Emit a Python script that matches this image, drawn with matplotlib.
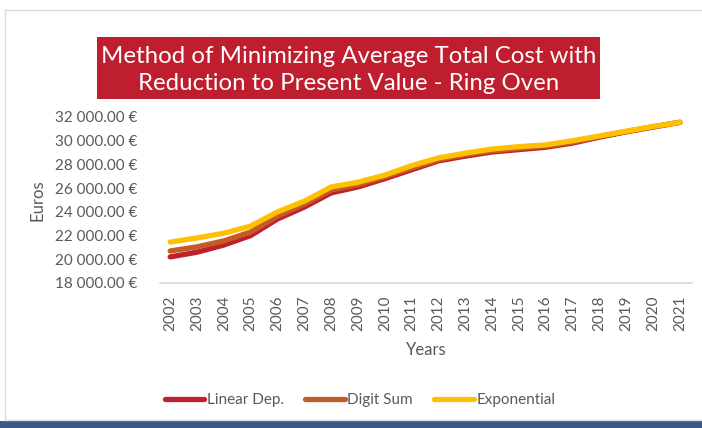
import matplotlib
matplotlib.use('Agg')
import matplotlib.pyplot as plt
from matplotlib.patches import Rectangle
from matplotlib.lines import Line2D
import numpy as np

plt.rcParams['font.family'] = ['Lato', 'DejaVu Sans']

# ------------------------------ DATA ------------------------------
years = [str(y) for y in range(2002, 2022)]
linear_dep = [20200, 20600, 21200, 22000, 23400, 24400, 25600, 26100, 26800, 27550,
              28300, 28700, 29050, 29250, 29450, 29800, 30300, 30750, 31150, 31550]
digit_sum = [20700, 21050, 21550, 22300, 23650, 24650, 25850, 26300, 26950, 27700,
             28420, 28830, 29150, 29350, 29550, 29880, 30350, 30780, 31180, 31550]
exponential = [21450, 21800, 22200, 22800, 24000, 24900, 26100, 26500, 27100, 27900,
               28550, 28950, 29300, 29500, 29650, 30000, 30400, 30800, 31200, 31550]
y_ticks = [18000, 20000, 22000, 24000, 26000, 28000, 30000, 32000]

W, H = 702, 428
fig = plt.figure(figsize=(W / 100, H / 100), dpi=100)

# ------------------------------ FRAME ------------------------------
gray = '#D9D9D9'
fig.add_artist(Line2D([5 / W, 5 / W], [1 - 10 / H, 1 - 420 / H], color=gray, lw=1))
fig.add_artist(Line2D([5 / W, 1], [1 - 10 / H, 1 - 10 / H], color=gray, lw=1))
fig.add_artist(Line2D([5 / W, 1], [1 - 420 / H, 1 - 420 / H], color=gray, lw=1))
fig.add_artist(Rectangle((0, 0), 1, 7 / H, transform=fig.transFigure,
                         facecolor='#3A5A8C', edgecolor='none'))

# ------------------------------ TITLE ------------------------------
fig.add_artist(Rectangle((97 / W, 1 - 99 / H), (600 - 97) / W, (99 - 37) / H,
                         transform=fig.transFigure, facecolor='#BE1E2D', edgecolor='none'))
fig.text(348.5 / W, 1 - 70 / H,
         'Method of Minimizing Average Total Cost with\nReduction to Present Value - Ring Oven',
         ha='center', va='center', color='white', fontsize=17.3, linespacing=1.4)

# ------------------------------ AXES ------------------------------
ax = fig.add_axes([160 / W, (H - 283) / H, (692 - 160) / W, (283 - 117) / H])
x = np.arange(len(years))
ax.plot(x, linear_dep, color='#C0202A', lw=3.8, solid_capstyle='round', label='Linear Dep.')
ax.plot(x, digit_sum, color='#C55A28', lw=3.8, solid_capstyle='round', label='Digit Sum')
ax.plot(x, exponential, color='#FFC000', lw=3.8, solid_capstyle='round', label='Exponential')

ax.set_ylim(18000, 32000)
ax.set_xlim(-0.38, 19.45)
ax.set_yticks(y_ticks)
ax.set_yticklabels(['{:,.2f} €'.format(v).replace(',', ' ') for v in y_ticks])
ax.set_xticks(x)
ax.set_xticklabels(years, rotation=90)
ax.tick_params(axis='both', length=0, colors='#595959', labelsize=11)
ax.tick_params(axis='y', pad=16)
ax.tick_params(axis='x', pad=9)
for s in ['top', 'right', 'left']:
    ax.spines[s].set_visible(False)
ax.spines['bottom'].set_color(gray)
ax.spines['bottom'].set_linewidth(1.2)

ax.set_ylabel('Euros', color='#595959', fontsize=12, labelpad=7)
ax.set_xlabel('Years', color='#595959', fontsize=12, labelpad=8)

fig.legend(loc='center', bbox_to_anchor=(360 / W, 1 - 400 / H), ncol=3, frameon=False,
           fontsize=11, labelcolor='#595959', handlelength=2.6, handletextpad=0.15,
           columnspacing=1.4)

fig.savefig('out.png', dpi=100)
